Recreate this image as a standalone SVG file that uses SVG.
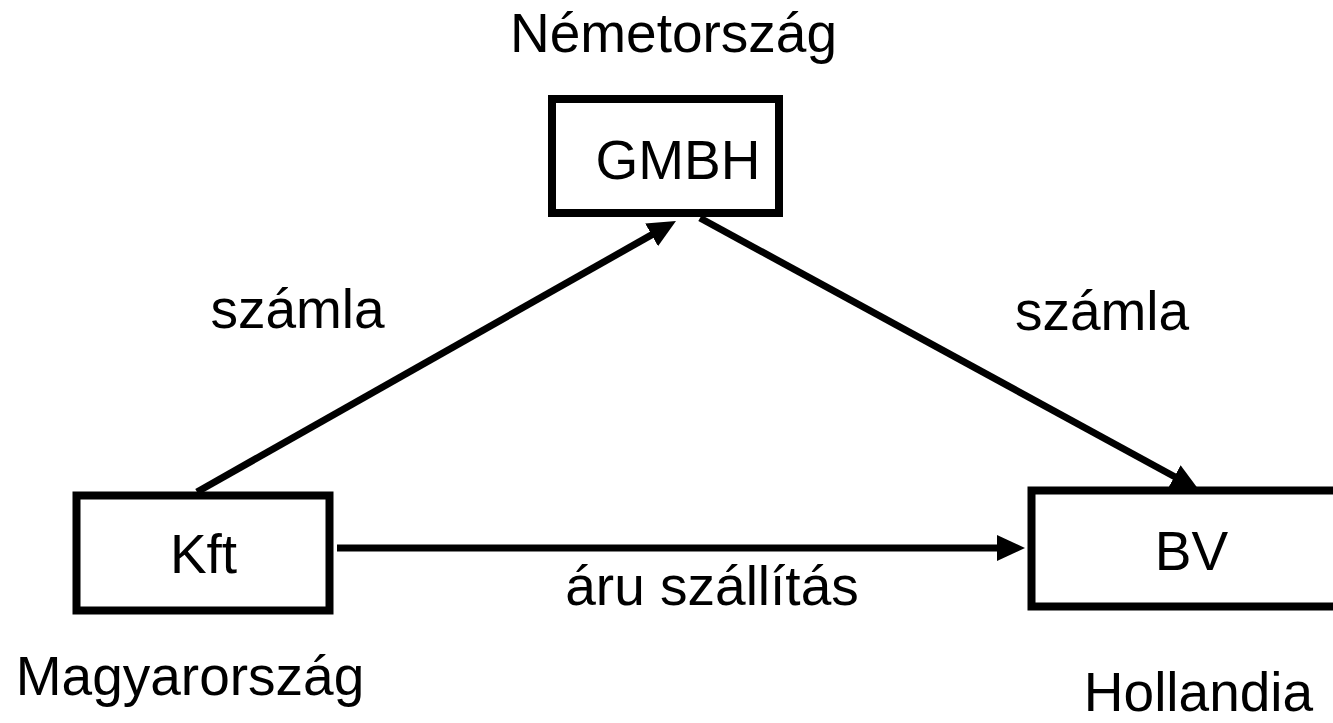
<svg xmlns="http://www.w3.org/2000/svg" width="1333" height="723" viewBox="0 0 1333 723">
<style>
.box{fill:#fff;stroke:#000;stroke-width:8}
.lbl{font-family:"Liberation Sans",Arial,sans-serif;font-size:55px;fill:#000;text-anchor:middle}
.con{stroke:#000;stroke-width:7;fill:none;marker-end:url(#ah)}
</style>
<defs>
<marker id="ah" markerUnits="userSpaceOnUse" markerWidth="28" markerHeight="26" viewBox="0 0 28 26" refX="4" refY="13" orient="auto">
<path d="M0,0 L28,13 L0,26 z" fill="#000"/>
</marker>
</defs>
<g id="connectors">
<line class="con" x1="197" y1="492" x2="655.1" y2="232.9"/>
<line class="con" x1="700" y1="218" x2="1177.9" y2="478.5"/>
<line class="con" x1="337" y1="548" x2="1001" y2="548"/>
</g>
<g id="node-gmbh">
<rect class="box" x="552" y="99" width="227" height="114"/>
<text class="lbl" x="678" y="179">GMBH</text>
</g>
<g id="node-kft">
<rect class="box" x="76.5" y="495.5" width="253" height="115"/>
<text class="lbl" x="203.5" y="573">Kft</text>
</g>
<g id="node-bv">
<rect class="box" x="1031.5" y="490.5" width="330" height="116"/>
<text class="lbl" x="1191.5" y="570">BV</text>
</g>
<g id="labels">
<text class="lbl" x="673.5" y="52">Németország</text>
<text class="lbl" x="297.5" y="328">számla</text>
<text class="lbl" x="1102" y="330">számla</text>
<text class="lbl" x="712" y="605">áru szállítás</text>
<text class="lbl" x="190" y="695">Magyarország</text>
<text class="lbl" x="1198.5" y="711">Hollandia</text>
</g>
</svg>
